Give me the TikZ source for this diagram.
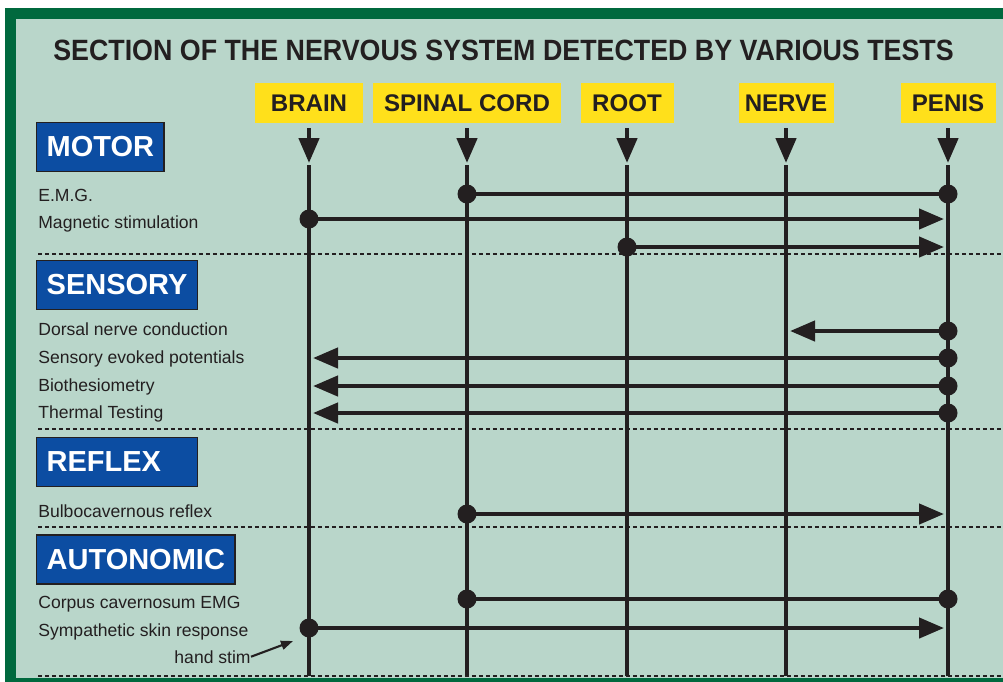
\documentclass[tikz,border=0pt]{standalone}
\usepackage{fontspec}
\setmainfont{Liberation Sans}
\usepackage{tikz}
\usetikzlibrary{arrows.meta, positioning}
\definecolor{framegreen}{RGB}{0, 105, 62}
\definecolor{panelmint}{RGB}{185, 214, 202}
\definecolor{headyellow}{RGB}{255, 224, 27}
\definecolor{groupblue}{RGB}{12, 77, 162}
\definecolor{inkdark}{RGB}{35, 31, 32}
\tikzset{
  header/.style={fill=headyellow, inner sep=0pt, minimum height=0.8cm, minimum width=#1,
    text=inkdark, font=\fontsize{13.7}{16}\selectfont\bfseries},
  group/.style={draw=inkdark, line width=0.8pt, fill=groupblue, text=white, anchor=west,
    inner xsep=0.2cm, minimum height=0.98cm, font=\fontsize{16.5}{20}\selectfont\bfseries},
  test/.style={inner sep=0pt, anchor=base west, text=inkdark, font=\fontsize{10}{12}\selectfont},
  nerveline/.style={line width=2.6pt, draw=inkdark},
  feed/.style={line width=2.6pt, draw=inkdark, shorten <=0.1cm,
    -{Triangle[length=0.5cm, width=0.4cm]}},
  signal/.style={line width=2.5pt, draw=inkdark, shorten >=0.08cm,
    -{Triangle[length=0.5cm, width=0.4cm]}},
  plain/.style={line width=2.5pt, draw=inkdark},
  dot/.style={fill=inkdark},
  sep/.style={line width=1.6pt, draw=inkdark, dash pattern=on 0.08cm off 0.06cm},
}
\begin{document}
\begin{tikzpicture}[x=0.02cm, y=-0.02cm]
        \clip (0, 0) rectangle (1003, 681);
        % Frame and panel
        \fill[white] (0, 0) rectangle (1003, 681);
        \fill[framegreen] (5, 8) rectangle (1010, 690);
        \fill[panelmint] (16, 19) rectangle (1010, 678);

        % Title
        \node[text=inkdark, font=\fontsize{16.7}{20}\selectfont\bfseries] (title) at (503.5, 50)
          {\scalebox{0.914}[1]{SECTION OF THE NERVOUS SYSTEM DETECTED BY VARIOUS TESTS}};

        % Column headers
        \node[header=2.16cm] (brain) at (309, 103) {BRAIN};
        \node[header=3.78cm] (spinal) at (467, 103) {SPINAL CORD};
        \node[header=1.86cm] (root) at (627, 103) {ROOT};
        \node[header=1.90cm] (nerve) at (786, 103) {NERVE};
        \node[header=1.90cm] (penis) at (948, 103) {PENIS};

        % Column lines
        \coordinate (tiprow) at (0, 163);
        \coordinate (toprow) at (0, 165);
        \coordinate (baserow) at (0, 676);
        \foreach \c in {brain, spinal, root, nerve, penis} {
          \draw[feed] (\c.south) -- (\c.south |- tiprow);
          \draw[nerveline] (\c.south |- toprow) -- (\c.south |- baserow);
        }

        % Separators
        \draw[sep] (38, 254) -- (1003, 254);
        \draw[sep] (38, 429) -- (1003, 429);
        \draw[sep] (38, 527) -- (1003, 527);
        \draw[sep] (38, 676) -- (1003, 676);

        % Group boxes
        \node[group] (motor) at (36, 147) {MOTOR};
        \node[group] (sensory) at (36, 285) {SENSORY};
        \node[group, text width=2.82cm, align=left] (reflex) at (36, 462) {REFLEX};
        \node[group] (autonomic) at (36, 559.5) {AUTONOMIC};

        % Test names
        \node[test] (emg) at (38, 201) {E.M.G.};
        \node[test] (magnetic) at (38, 228) {Magnetic stimulation};
        \node[test] (dorsal) at (38, 335) {Dorsal nerve conduction};
        \node[test] (sep) at (38, 363) {Sensory evoked potentials};
        \node[test] (bio) at (38, 391) {Biothesiometry};
        \node[test] (thermal) at (38, 418) {Thermal Testing};
        \node[test] (bulbo) at (38, 517) {Bulbocavernous reflex};
        \node[test] (corpus) at (38, 608) {Corpus cavernosum EMG};
        \node[test] (symp) at (38, 636) {Sympathetic skin response};
        \node[test, anchor=base east] (handstim) at (251, 663) {hand stim};

        % Rows of the tests
        \coordinate (rEmg) at (0, 194);
        \coordinate (rMag) at (0, 219);
        \coordinate (rRoot) at (0, 247);
        \coordinate (rDorsal) at (0, 331);
        \coordinate (rSep) at (0, 358);
        \coordinate (rBio) at (0, 386);
        \coordinate (rThermal) at (0, 413);
        \coordinate (rBulbo) at (0, 514);
        \coordinate (rCorpus) at (0, 599);
        \coordinate (rSymp) at (0, 628);
        \coordinate (stimtip) at (293, 641);

        % Test paths
        \draw[plain] (spinal |- rEmg) -- (penis |- rEmg);
        \draw[signal] (brain |- rMag) -- (penis |- rMag);
        \draw[signal] (root |- rRoot) -- (penis |- rRoot);
        \draw[signal] (penis |- rDorsal) -- (nerve |- rDorsal);
        \draw[signal] (penis |- rSep) -- (brain |- rSep);
        \draw[signal] (penis |- rBio) -- (brain |- rBio);
        \draw[signal] (penis |- rThermal) -- (brain |- rThermal);
        \draw[signal] (spinal |- rBulbo) -- (penis |- rBulbo);
        \draw[plain] (spinal |- rCorpus) -- (penis |- rCorpus);
        \draw[signal] (brain |- rSymp) -- (penis |- rSymp);
        \draw[line width=1.2pt, draw=inkdark, -{Triangle[length=0.24cm, width=0.18cm]}]
          (handstim.east) -- (stimtip);

        % Start points
        \fill[dot] (spinal |- rEmg) circle[radius=0.19cm];
        \fill[dot] (penis |- rEmg) circle[radius=0.19cm];
        \fill[dot] (brain |- rMag) circle[radius=0.19cm];
        \fill[dot] (root |- rRoot) circle[radius=0.19cm];
        \fill[dot] (penis |- rDorsal) circle[radius=0.19cm];
        \fill[dot] (penis |- rSep) circle[radius=0.19cm];
        \fill[dot] (penis |- rBio) circle[radius=0.19cm];
        \fill[dot] (penis |- rThermal) circle[radius=0.19cm];
        \fill[dot] (spinal |- rBulbo) circle[radius=0.19cm];
        \fill[dot] (spinal |- rCorpus) circle[radius=0.19cm];
        \fill[dot] (penis |- rCorpus) circle[radius=0.19cm];
        \fill[dot] (brain |- rSymp) circle[radius=0.19cm];
\end{tikzpicture}
\end{document}
